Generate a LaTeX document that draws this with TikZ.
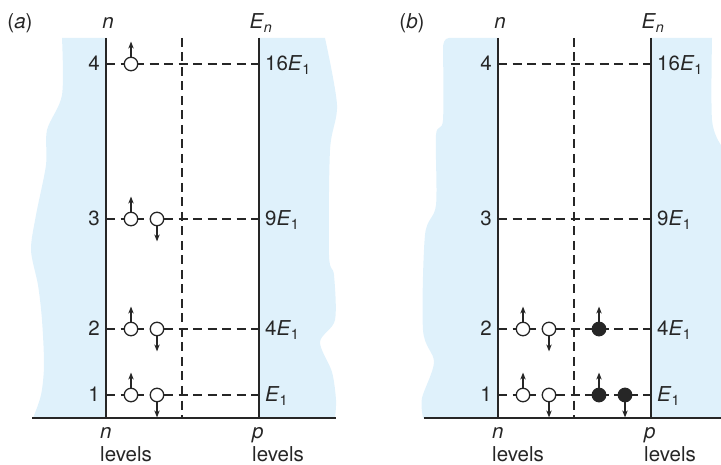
\documentclass[tikz,border=0pt]{standalone}
\usepackage{fontspec}
\setmainfont{TeX Gyre Heros}
\usetikzlibrary{arrows.meta,positioning}
\definecolor{sea}{HTML}{DFF1FB}
\definecolor{ink}{HTML}{262626}

\begin{document}
\begin{tikzpicture}[
    x=1pt, y=-1pt,
    >={Stealth[length=7pt,width=5.5pt]},
    font=\fontsize{20.5}{23}\selectfont,
    wall/.style={draw=ink, line width=1.5pt},
    level/.style={draw=ink, line width=1.3pt, dash pattern=on 9pt off 5.5pt},
    elec/.style={circle, draw=ink, line width=1.3pt, fill=white,
                 minimum size=13.5pt, inner sep=0pt},
    pelec/.style={elec, fill=ink},
    spin/.style={->, draw=ink, line width=1.3pt},
    txt/.style={text=ink, inner sep=0pt}
  ]
  \useasboundingbox (0,0) rectangle (721,465);

  %% Walls of the two wells (blue)
  \fill[sea] (106,38) -- plot[smooth] coordinates {(62,38) (62,95) (47,130)
      (46,165) (36,215) (31,250) (38,285) (42,320) (44,365) (41,395) (33,418)}
      -- (106,418) -- cycle;
  \fill[sea] (259,38) -- plot[smooth] coordinates {(325,38) (337,105) (330,150)
      (329,255) (334,275) (335,320) (320,342) (332,372) (336,400) (335,418)}
      -- (259,418) -- cycle;
  \fill[sea] (498,38) -- (449,38) to[out=180,in=90] (443,48)
      -- plot[smooth] coordinates {(443,48) (443,120) (436,135) (436,205)
      (425,235) (423,330) (434,362) (422,398) (423,418)}
      -- (498,418) -- cycle;
  \fill[sea] (650,38) -- plot[smooth] coordinates {(712,38) (712,120) (721,145)}
      -- (721,418) -- (650,418) -- cycle;

  %% Frame, levels and labels of each panel
  \foreach \pn/\ox/\fx in {a/0/336, b/392/721} {
    \coordinate (Lt\pn) at (\ox+106,38);
    \coordinate (Lb\pn) at (\ox+106,418);
    \coordinate (Rt\pn) at (\ox+259,38);
    \coordinate (Rb\pn) at (\ox+259,418);
    \coordinate (Mt\pn) at (\ox+182,38);
    \coordinate (Mb\pn) at (\ox+182,418);
    \coordinate (Fl\pn) at (\ox+32,418);
    \coordinate (Fr\pn) at (\fx,418);

    \foreach \k/\yy/\en in {4/64/16, 3/219/9, 2/329/4, 1/395/} {
      \coordinate (L\pn\k) at (\ox+106,\yy);
      \coordinate (R\pn\k) at (\ox+259,\yy);
      \draw[level] (L\pn\k) -- (R\pn\k);
      \node[txt, anchor=base east, xshift=-6pt, yshift=-7pt] (num\pn\k)
        at (L\pn\k) {\k};
      \node[txt, anchor=base west, xshift=6pt, yshift=-7pt] (en\pn\k)
        at (R\pn\k) {\en\textit{E}\textsubscript{1}};
    }

    \draw[level] (Mt\pn) -- (Mb\pn);
    \draw[wall] (Lt\pn) -- (Lb\pn);
    \draw[wall] (Rt\pn) -- (Rb\pn);
    \draw[wall] (Fl\pn) -- (Fr\pn);

    \node[txt, anchor=base] (tag\pn) at (\ox+20,29) {(\textit{\pn})};
    \node[txt, anchor=base] (ntop\pn) at (\ox+108,29) {\textit{n}};
    \node[txt, anchor=base] (etop\pn) at (\ox+261,29)
      {\textit{E}\textsubscript{\textit{n}}};
    \node[txt, anchor=base west] (nbot\pn) at (\ox+100,438) {\textit{n}};
    \node[txt, anchor=base west] (nlev\pn) at (\ox+100,461) {levels};
    \node[txt, anchor=base west] (pbot\pn) at (\ox+252,438) {\textit{p}};
    \node[txt, anchor=base west] (plev\pn) at (\ox+252,461) {levels};
  }

  %% Electrons in (a)
  \node[elec] (ea4u) at (131,64) {};
  \foreach \k/\yy in {3/219, 2/329, 1/395} {
    \node[elec] (ea\k u) at (131,\yy) {};
    \node[elec] (ea\k d) at (157,\yy) {};
    \draw[spin] (ea\k u.north) -- ++(0,-15);
    \draw[spin] (ea\k d.south) -- ++(0,15);
  }
  \draw[spin] (ea4u.north) -- ++(0,-15);

  %% Electrons in (b)
  \foreach \k/\yy in {2/329, 1/395} {
    \node[elec] (eb\k u) at (523,\yy) {};
    \node[elec] (eb\k d) at (549,\yy) {};
    \draw[spin] (eb\k u.north) -- ++(0,-15);
    \draw[spin] (eb\k d.south) -- ++(0,15);
    \node[pelec] (pb\k u) at (599,\yy) {};
    \draw[spin] (pb\k u.north) -- ++(0,-15);
  }
  \node[pelec] (pb1d) at (625,395) {};
  \draw[spin] (pb1d.south) -- ++(0,15);

\end{tikzpicture}
\end{document}
